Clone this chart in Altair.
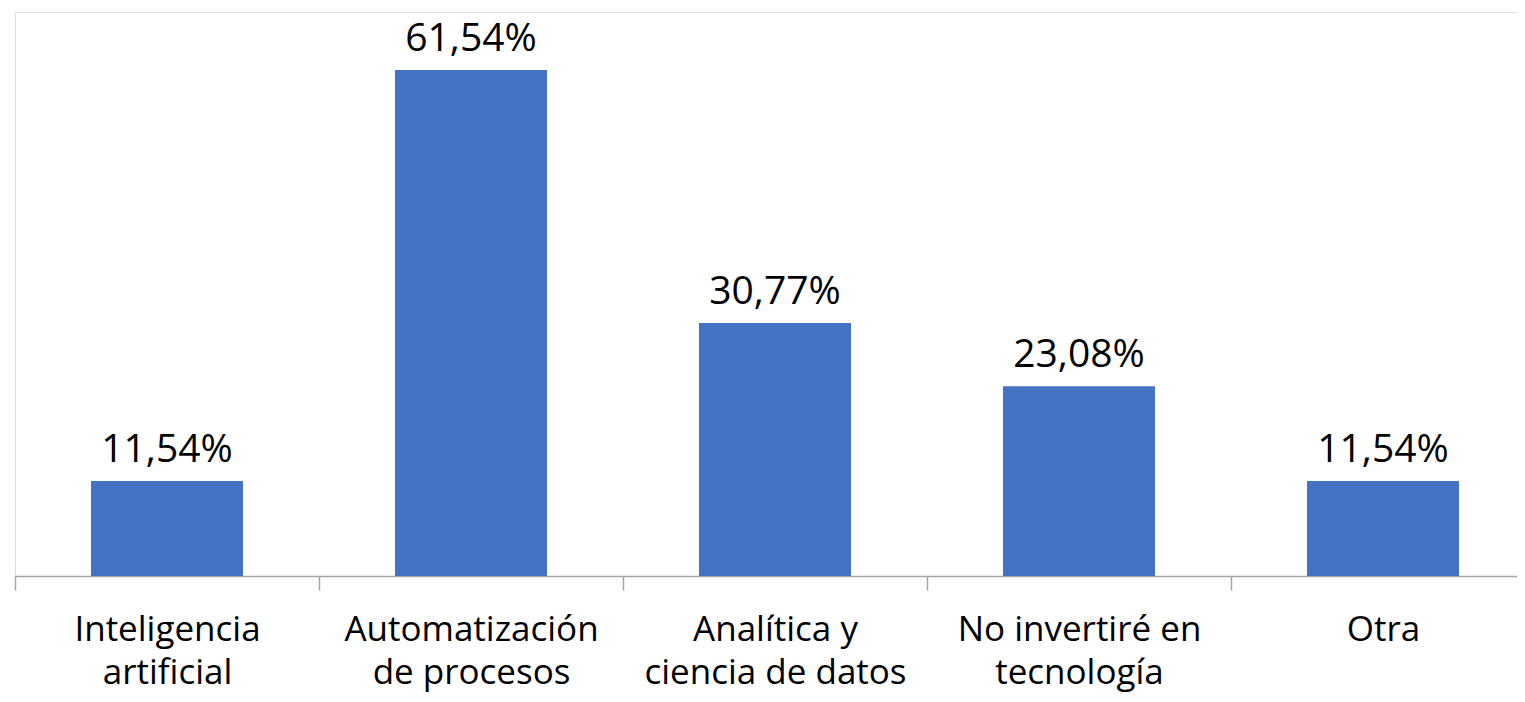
import altair as alt
import pandas as pd

categories = [
    "Inteligencia\nartificial",
    "Automatización\nde procesos",
    "Analítica y\nciencia de datos",
    "No invertiré en\ntecnología",
    "Otra",
]
values = [11.54, 61.54, 30.77, 23.08, 11.54]
labels = ["11,54%", "61,54%", "30,77%", "23,08%", "11,54%"]

df = pd.DataFrame({"cat": categories, "val": values, "lab": labels})

x = alt.X(
    "cat:N",
    sort=categories,
    title=None,
    scale=alt.Scale(paddingInner=0, paddingOuter=0, range=[0, 1520]),
    axis=alt.Axis(
        labelAngle=0,
        labelFont="Open Sans",
        labelFontSize=35,
        labelColor="#000000",
        labelLineHeight=43,
        labelPadding=22,
        labelExpr="split(datum.label, '\\n')",
        tickBand="extent",
        tickSize=14,
        tickColor="#a6a6a6",
        domainColor="#a6a6a6",
        domainWidth=1.5,
        tickWidth=1.5,
        labelLimit=400,
    ),
)
y = alt.Y("val:Q", scale=alt.Scale(domain=[0, 68.6], nice=False, zero=True), axis=None)

bars = alt.Chart(df).mark_bar(color="#4472C4", width=alt.RelativeBandSize(0.5)).encode(x=x, y=y)
text = alt.Chart(df).mark_text(
    font="Open Sans", fontSize=39, color="#000000", baseline="alphabetic", dy=-19
).encode(x=x, y=y, text="lab:N")

chart = (
    (bars + text)
    .properties(width=1502, height=564)
    .configure_view(strokeWidth=0, stroke="transparent")
    .configure(
        autosize=alt.AutoSizeParams(type="none"),
        padding={"left": 7, "top": 4, "right": 0, "bottom": 118},
        background="#ffffff",
    )
)

chart.save("out.html", embed_options={"renderer": "svg", "actions": False})
